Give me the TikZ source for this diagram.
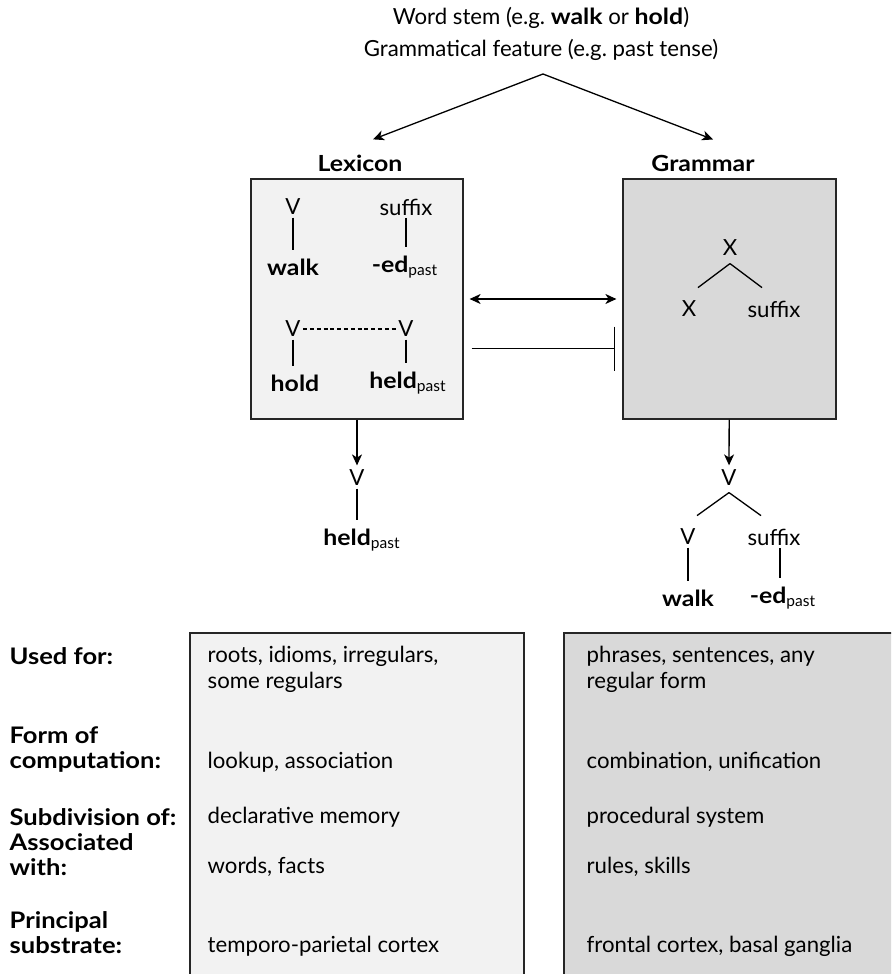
\documentclass[tikz,border=0pt]{standalone}
\usepackage{fontspec}
\setmainfont{Lato}[BoldFeatures={FakeStretch=1.12}]
\usetikzlibrary{arrows.meta}
\definecolor{lexfill}{HTML}{F2F2F2}
\definecolor{gramfill}{HTML}{D9D9D9}
\newcommand{\pst}{\textsubscript{\normalfont past}}
\tikzset{
  box/.style={draw=black!85, line width=0.6pt},
  wd/.style={inner sep=1pt},
  stem/.style={shorten >=3pt},
  hd/.style={anchor=west, align=left, inner sep=0pt, font=\fontsize{11.4}{12.5}\selectfont\bfseries},
  cell/.style={anchor=west, align=left, inner sep=0pt},
  link/.style={dash pattern=on 2pt off 1.4pt},
}
\begin{document}
\begin{tikzpicture}[x=0.5pt,y=-0.5pt,line width=0.65pt,
    font=\fontsize{11.1}{13.2}\selectfont,
    >={Stealth[length=5.5pt,width=5pt,inset=1.6pt]}]
\useasboundingbox (0,0) rectangle (891,974);
\clip (0,0) rectangle (891,974);
% input
\node (stem) at (541,18) {Word stem (e.g.\ \textbf{walk} or \textbf{hold})};
\node (feat) at (541,50) {Grammatical feature (e.g.\ past tense)};
\coordinate (apex) at (543,74);
\node (lexlab) at (360,163) {\textbf{Lexicon}};
\node (gramlab) at (703,163) {\textbf{Grammar}};
\draw[->] (apex) -- ([shift={(13,-8)}]lexlab.north);
\draw[->] (apex) -- ([shift={(10,-8)}]gramlab.north);
% the two boxes
\node[box, fill=lexfill, minimum width=106pt, minimum height=120pt] (lexbox) at (357,299) {};
\node[box, fill=gramfill, minimum width=106.5pt, minimum height=120pt] (grambox) at (729.5,299) {};
\draw[<->, shorten <=3pt, shorten >=3pt] (lexbox) -- (grambox);
\draw[-{Bar[width=22pt]}, shorten <=4pt, shorten >=3.5pt]
  ([yshift=-24.75pt]lexbox.east) -- ([yshift=-24.75pt]grambox.west);
% lexicon entries
\node[wd] (lv) at (293,207) {V};
\node[wd] (lsuf) at (406,207) {suffix};
\node[wd] (lwalk) at (293,267) {\textbf{walk}};
\node[wd] (led) at (405,267) {\textbf{-ed}\pst};
\draw[stem] (lv) -- (lwalk);
\draw[stem] (lsuf) -- (lsuf |- led.north);
\node[wd] (hv) at (293,329) {V};
\node[wd] (hv2) at (406,329) {V};
\node[wd] (hhold) at (295,383) {\textbf{hold}};
\node[wd] (hheld) at (408,383) {\textbf{held}\pst};
\draw[link] (hv) -- (hv2);
\draw[stem] (hv) -- (hv |- hhold.north);
\draw[stem] (hv2) -- (hv2 |- hheld.north);
% grammar rule
\node[wd] (gtop) at (730,248) {X};
\node[wd] (gx) at (689,309) {X};
\node[wd] (gsuf) at (774,309) {suffix};
\draw ([yshift=-2.5pt]gtop.south) -- ++(-32,24);
\draw ([yshift=-2.5pt]gtop.south) -- ++(32,24);
% outputs
\node[wd] (ov) at (357,478) {V};
\node[wd] (oheld) at (362,540) {\textbf{held}\pst};
\draw[->, shorten >=1pt] (lexbox) -- (ov);
\draw[stem] (ov) -- (ov |- oheld.north);
\node[wd] (gov) at (729,478) {V};
\node[wd] (gov1) at (688,537) {V};
\node[wd] (gosuf) at (774,537) {suffix};
\node[wd] (gowalk) at (688,598) {\textbf{walk}};
\node[wd] (goed) at (783,598) {\textbf{-ed}\pst};
\draw[->, shorten >=1pt] (grambox) -- (gov);
\draw ([yshift=-2pt]gov.south) -- ++(-32,23);
\draw ([yshift=-2pt]gov.south) -- ++(32,23);
\draw[stem] (gov1) -- (gov1 |- gowalk.north);
\draw[stem] ([xshift=3pt]gosuf.south) -- ([xshift=3pt]gosuf.south |- goed.north);
% table
\draw[box, fill=lexfill] (190,633) rectangle (524,1000);
\draw[box, fill=gramfill] (564,633) rectangle (930,1000);
\node[hd] (used) at (9,656) {Used for:};
\node[hd] (form) at (9,749.5) {Form of\\computation:};
\node[hd] (subd) at (9,817) {Subdivision of:};
\node[hd] (assoc) at (9,854.5) {Associated\\with:};
\node[hd] (princ) at (9,933) {Principal\\substrate:};
\node[cell] (lused) at (207,669.5) {roots, idioms, irregulars,\\some regulars};
\node[cell] (lform) at (207,762) {lookup, association};
\node[cell] (lsubd) at (207,817) {declarative memory};
\node[cell] (lassoc) at (207,867) {words, facts};
\node[cell] (lprinc) at (207,946) {temporo-parietal cortex};
\node[cell] (gused) at (586,669.5) {phrases, sentences, any\\regular form};
\node[cell] (gform) at (586,762) {combination, unification};
\node[cell] (gsubd) at (586,817) {procedural system};
\node[cell] (gassoc) at (586,867) {rules, skills};
\node[cell] (gprinc) at (586,946) {frontal cortex, basal ganglia};
\end{tikzpicture}
\end{document}
